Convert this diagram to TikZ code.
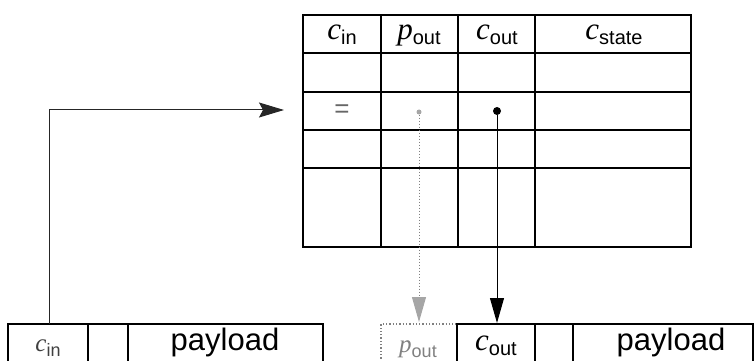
\documentclass[tikz,border=0pt]{standalone}
\usepackage{fontspec}
\setmainfont{Liberation Sans}
\newfontfamily\tms{Liberation Serif}
\usetikzlibrary{arrows.meta}
\newcommand\vsym[3][20]{{\tms\itshape #2}\raisebox{-5pt}{\fontsize{#1}{#1}\selectfont #3}}
\begin{document}
\begin{tikzpicture}[x=1pt,y=-1pt, line join=miter,
  frame/.style={line width=2pt},
  gridline/.style={line width=1.5pt},
  lbl/.style={inner sep=0pt, font=\fontsize{31}{31}\selectfont},
  conn/.style={line width=1pt},
  bigtip/.style={-{Stealth[length=25pt,width=15pt,inset=4pt]}},
  tri/.style={-{Triangle[length=25pt,width=14pt]}}
]
\useasboundingbox (0,0) rectangle (756,361);
\clip (0,0) rectangle (756,361);
% table
\foreach \x in {381,458,535} \draw[gridline] (\x,15) -- (\x,247);
\foreach \y in {53,92,130,168} \draw[gridline] (303,\y) -- (691,\y);
\draw[frame] (303,15) rectangle (691,247);
\node[lbl] (hcin) at (342,35) {\vsym{c}{in}};
\node[lbl] (hpout) at (419,35) {\vsym{p}{out}};
\node[lbl] (hcout) at (497,35) {\vsym{c}{out}};
\node[lbl] (hcstate) at (614,35) {\vsym{c}{state}};
% matched row marks
\node[inner sep=0pt, text=black!60, font=\fontsize{26}{26}\selectfont] (eq) at (342,111) {=};
\node[circle, fill=gray!70, inner sep=0pt, minimum size=5pt] (pdot) at (419,112) {};
\node[circle, fill=black, inner sep=0pt, minimum size=8pt] (cdot) at (497,111) {};
% bottom left packet
\draw[frame] (8,375) |- (323,324) -- (323,375);
\draw[gridline] (88,324) -- (88,375);
\draw[gridline] (128,324) -- (128,375);
\node[lbl, text=black!75, font=\fontsize{25}{25}\selectfont] (bcin) at (48,348) {\vsym[18]{c}{in}};
\node[lbl] (bpay1) at (225,342) {payload};
% bottom right packet
\draw[gray, dotted, line width=1.3pt] (381,375) |- (457,324);
\draw[frame] (457,375) |- (753,324) -- (753,375);
\draw[gridline] (535,324) -- (535,375);
\draw[gridline] (573,324) -- (573,375);
\node[lbl, text=gray, font=\fontsize{25}{25}\selectfont] (bpout) at (418,349) {\vsym[18]{p}{out}};
\node[lbl] (bcout) at (496,346) {\vsym{c}{out}};
\node[lbl] (bpay2) at (671,342) {payload};
% connectors
\coordinate (cintop) at (49,324);
\coordinate (tabin) at (284,110);
\coordinate (pouttop) at (419,322);
\coordinate (couttop) at (497,323);
\draw[conn, black!85, bigtip] (cintop) |- (tabin);
\draw[conn, gray, dotted, -{Triangle[length=25pt,width=14pt,fill=gray!70,color=gray!70]}] (pdot) -- (pouttop);
\draw[conn, tri] (cdot) -- (couttop);
\end{tikzpicture}
\end{document}
